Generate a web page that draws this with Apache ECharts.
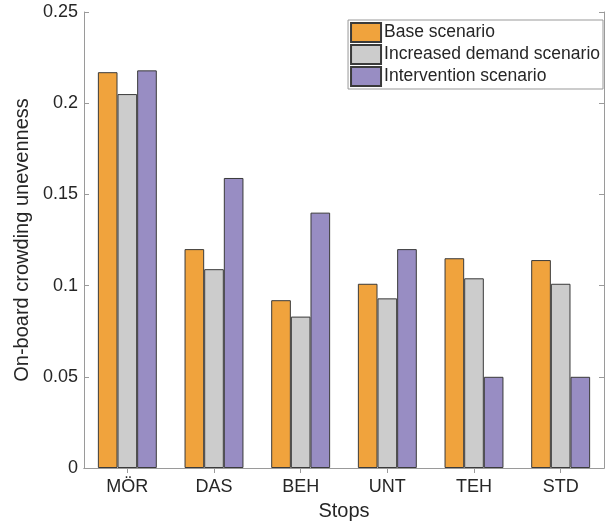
<!DOCTYPE html>
<html>
<head>
<meta charset="utf-8">
<script src="https://cdn.jsdelivr.net/npm/echarts@6/dist/echarts.min.js"></script>
<style>
html,body{margin:0;padding:0;background:#fff;}
#chart{width:605px;height:526px;}
</style>
</head>
<body>
<div id="chart"></div>
<script>
var categories = ['MÖR', 'DAS', 'BEH', 'UNT', 'TEH', 'STD'];
var seriesNames = ['Base scenario', 'Increased demand scenario', 'Intervention scenario'];
var baseValues = [0.217, 0.120, 0.092, 0.101, 0.115, 0.114];
var increasedValues = [0.205, 0.109, 0.083, 0.093, 0.104, 0.101];
var interventionValues = [0.218, 0.159, 0.140, 0.120, 0.050, 0.050];
var yTicks = [0, 0.05, 0.1, 0.15, 0.2, 0.25];
var colors = ['#F0A33D', '#CCCCCC', '#988DC3'];

var FONT = "'Liberation Sans', Arial, sans-serif";
var TXT = '#262626';
var AX = '#9a9a9a';

var chart = echarts.init(document.getElementById('chart'), null, {renderer: 'canvas'});

function bar(name, data, color) {
  return {
    name: name, type: 'bar', data: data,
    barGap: '0%', barCategoryGap: '32%',
    itemStyle: {color: color, borderColor: '#3a3a3a', borderWidth: 1},
    emphasis: {disabled: true}
  };
}

var option = {
  animation: false,
  textStyle: {fontFamily: FONT},
  grid: {left: 84, right: 1, top: 12, bottom: 56, containLabel: false},
  legend: {
    orient: 'vertical', right: 2, top: 20,
    itemWidth: 30, itemHeight: 19, itemGap: 1,
    padding: [2, 3, 2, 2],
    backgroundColor: '#fff', borderColor: '#999', borderWidth: 1, borderRadius: 0,
    icon: 'rect',
    textStyle: {fontFamily: FONT, fontSize: 17.5, color: TXT, padding: [0, 0, 0, -2]},
    data: seriesNames
  },
  xAxis: [{
    type: 'category', data: categories, position: 'bottom',
    axisLine: {show: true, lineStyle: {color: AX}},
    axisTick: {show: true, inside: true, alignWithLabel: true, length: 5, lineStyle: {color: AX}},
    axisLabel: {fontSize: 18, color: TXT, margin: 10, fontFamily: FONT},
    name: 'Stops', nameLocation: 'middle', nameGap: 33,
    nameTextStyle: {fontSize: 20, color: TXT, fontFamily: FONT}
  }, {
    type: 'category', data: categories, position: 'top',
    axisLine: {show: true, lineStyle: {color: AX}},
    axisTick: {show: true, inside: true, alignWithLabel: true, length: 5, lineStyle: {color: AX}},
    axisLabel: {show: false}
  }],
  yAxis: [{
    type: 'value', min: 0, max: 0.25, interval: 0.05,
    axisLine: {show: true, lineStyle: {color: AX}},
    axisTick: {show: true, inside: true, length: 5, lineStyle: {color: AX}},
    splitLine: {show: false},
    axisLabel: {fontSize: 18, color: TXT, margin: 6, fontFamily: FONT,
      formatter: function (v) {
        for (var i = 0; i < yTicks.length; i++) {
          if (Math.abs(yTicks[i] - v) < 1e-9) return String(yTicks[i]);
        }
        return '';
      }},
    name: 'On-board crowding unevenness', nameLocation: 'middle', nameGap: 47,
    nameTextStyle: {fontSize: 20, color: TXT, fontFamily: FONT}
  }, {
    type: 'value', min: 0, max: 0.25, interval: 0.05, position: 'right',
    axisLine: {show: true, lineStyle: {color: AX}},
    axisTick: {show: true, inside: true, length: 5, lineStyle: {color: AX}},
    splitLine: {show: false},
    axisLabel: {show: false}
  }],
  series: [
    bar(seriesNames[0], baseValues, colors[0]),
    bar(seriesNames[1], increasedValues, colors[1]),
    bar(seriesNames[2], interventionValues, colors[2])
  ]
};
chart.setOption(option);
</script>
</body>
</html>
